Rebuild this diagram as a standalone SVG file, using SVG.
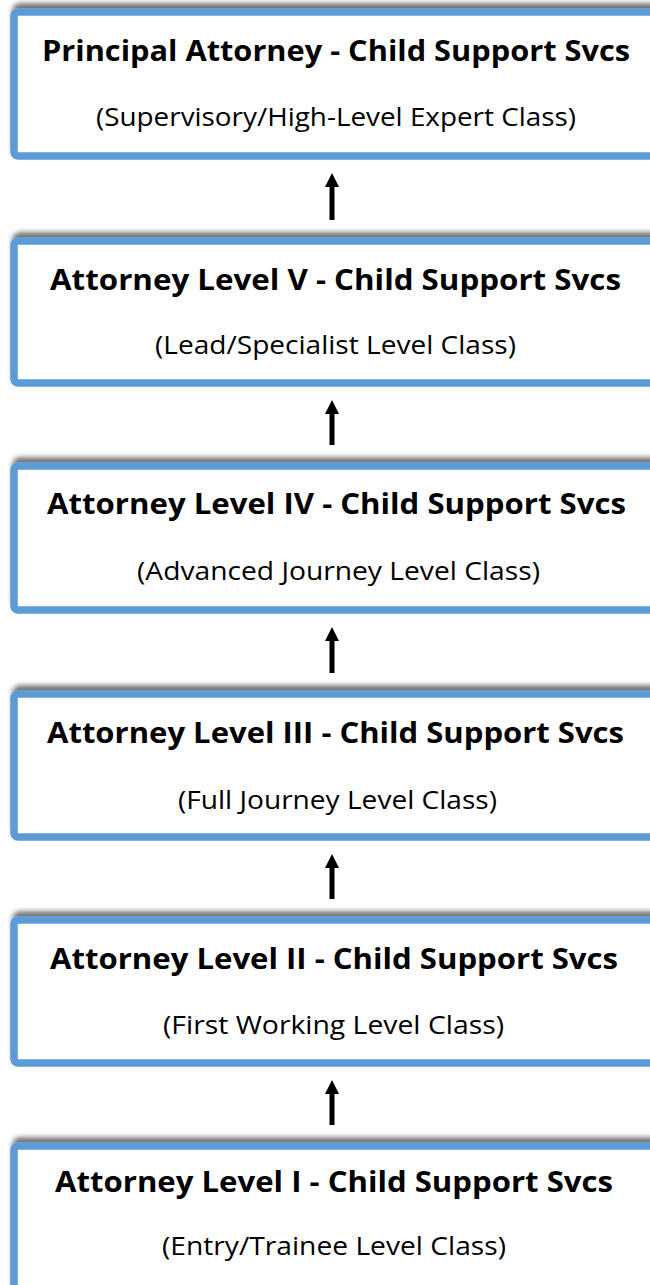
<svg xmlns="http://www.w3.org/2000/svg" width="650" height="1285" viewBox="0 0 650 1285">
  <defs>
    <filter id="shadow" x="-10%" y="-20%" width="120%" height="140%">
      <feDropShadow dx="2" dy="-5" stdDeviation="2.5" flood-color="#000" flood-opacity="0.55"/>
    </filter>
    <marker id="ah" viewBox="0 0 16 14" refX="0" refY="7" markerWidth="16" markerHeight="14" markerUnits="userSpaceOnUse" orient="auto">
      <path d="M0,0 L14,7 L0,14 z" fill="#000"/>
    </marker>
  </defs>
  <style>
    .box { fill: #ffffff; stroke: #5B9BD5; stroke-width: 7.5; filter: url(#shadow); }
    .title { font-family: "Open Sans", "Noto Sans", "Liberation Sans", sans-serif; font-weight: bold; font-size: 28px; fill: #000; text-anchor: middle; }
    .sub { font-family: "Open Sans", "Noto Sans", "Liberation Sans", sans-serif; font-size: 25.5px; fill: #000; text-anchor: middle; }
    .conn line { stroke: #000; stroke-width: 5; marker-end: url(#ah); }
  </style>
  <rect width="650" height="1285" fill="#ffffff"/>

  <g id="node-principal">
    <rect class="box" x="14" y="12" width="700" height="144" rx="4"/>
    <text class="title" x="336" y="61" textLength="588" lengthAdjust="spacingAndGlyphs">Principal Attorney - Child Support Svcs</text>
    <text class="sub" x="336" y="126" textLength="480" lengthAdjust="spacingAndGlyphs">(Supervisory/High-Level Expert Class)</text>
  </g>

  <g id="node-level5">
    <rect class="box" x="14" y="241" width="700" height="142" rx="4"/>
    <text class="title" x="335.5" y="290" textLength="571" lengthAdjust="spacingAndGlyphs">Attorney Level V - Child Support Svcs</text>
    <text class="sub" x="335.5" y="354" textLength="361" lengthAdjust="spacingAndGlyphs">(Lead/Specialist Level Class)</text>
  </g>

  <g id="node-level4">
    <rect class="box" x="14" y="466" width="700" height="144" rx="4"/>
    <text class="title" x="336.5" y="514" textLength="579" lengthAdjust="spacingAndGlyphs">Attorney Level IV - Child Support Svcs</text>
    <text class="sub" x="338.5" y="580" textLength="403" lengthAdjust="spacingAndGlyphs">(Advanced Journey Level Class)</text>
  </g>

  <g id="node-level3">
    <rect class="box" x="14" y="694" width="700" height="143" rx="4"/>
    <text class="title" x="335.5" y="743" textLength="577" lengthAdjust="spacingAndGlyphs">Attorney Level III - Child Support Svcs</text>
    <text class="sub" x="337.5" y="809" textLength="319" lengthAdjust="spacingAndGlyphs">(Full Journey Level Class)</text>
  </g>

  <g id="node-level2">
    <rect class="box" x="14" y="920" width="700" height="143" rx="4"/>
    <text class="title" x="334" y="969" textLength="568" lengthAdjust="spacingAndGlyphs">Attorney Level II - Child Support Svcs</text>
    <text class="sub" x="333.5" y="1034" textLength="341" lengthAdjust="spacingAndGlyphs">(First Working Level Class)</text>
  </g>

  <g id="node-level1">
    <rect class="box" x="14" y="1146" width="700" height="160" rx="4"/>
    <text class="title" x="334" y="1192" textLength="558" lengthAdjust="spacingAndGlyphs">Attorney Level I - Child Support Svcs</text>
    <text class="sub" x="334" y="1255" textLength="344" lengthAdjust="spacingAndGlyphs">(Entry/Trainee Level Class)</text>
  </g>

  <g id="connectors" class="conn">
    <line x1="332" y1="220" x2="332" y2="187"/>
    <line x1="332" y1="445" x2="332" y2="414"/>
    <line x1="332" y1="673" x2="332" y2="641"/>
    <line x1="332" y1="899" x2="332" y2="868"/>
    <line x1="332" y1="1125" x2="332" y2="1094"/>
  </g>
</svg>
